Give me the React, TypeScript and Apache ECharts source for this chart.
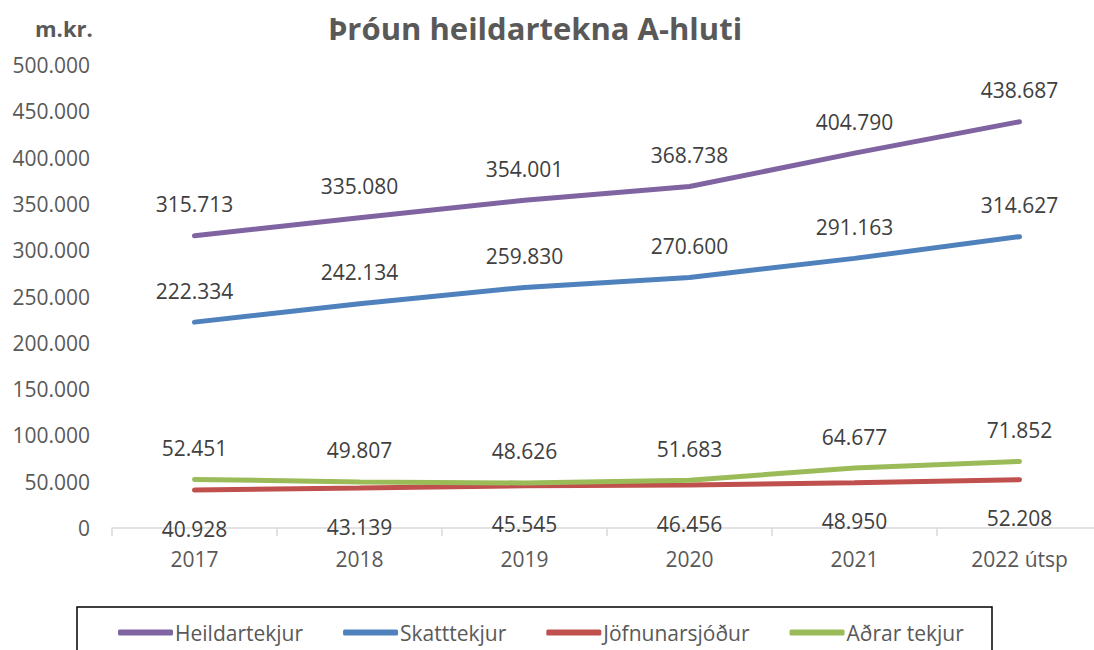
import React, { useEffect, useRef } from "react";
import * as echarts from "echarts";

const categories = ["2017", "2018", "2019", "2020", "2021", "2022 útsp"];
const heildartekjur = [315713, 335080, 354001, 368738, 404790, 438687];
const skatttekjur = [222334, 242134, 259830, 270600, 291163, 314627];
const jofnunarsjodur = [40928, 43139, 45545, 46456, 48950, 52208];
const adrarTekjur = [52451, 49807, 48626, 51683, 64677, 71852];
const yTicks = { min: 0, max: 500000, interval: 50000 };

const fmt = (v: number) => {
  if (v === 0) return "0";
  return String(Math.round(v)).replace(/\B(?=(\d{3})+(?!\d))/g, ".");
};

const FONT = "'Open Sans', sans-serif";

export default function App() {
  const ref = useRef<HTMLDivElement>(null);
  useEffect(() => {
    if (!ref.current) return;
    const chart = echarts.init(ref.current, null, { renderer: "svg" });
    const mk = (name: string, data: number[], color: string, pos: "top" | "bottom", dist: number) => ({
      name,
      type: "line",
      data,
      symbol: "circle",
      symbolSize: 0.1,
      showSymbol: true,
      lineStyle: { color, width: 5, cap: "round" },
      itemStyle: { color },
      labelLayout: { hideOverlap: false },
      label: {
        show: true,
        position: pos,
        distance: dist,
        formatter: (p: any) => fmt(p.value),
        color: "#404040",
        fontSize: 21,
        fontFamily: FONT,
      },
    });
    chart.setOption({
      animation: false,
      textStyle: { fontFamily: FONT },
      title: {
        text: "Þróun heildartekna A-hluti",
        left: 530,
        top: 7,
        textAlign: "center",
        textStyle: { fontSize: 31, fontWeight: "bold", color: "#595959", fontFamily: FONT },
      },
      graphic: [
        {
          type: "text",
          left: 35,
          top: 17,
          style: { text: "m.kr.", font: `bold 22px ${FONT}`, fill: "#595959" },
        },
        {
          type: "rect",
          shape: { x: 77, y: 607, width: 915, height: 60 },
          style: { fill: "none", stroke: "#000", lineWidth: 1.5 },
        },
      ],
      legend: {
        left: 113,
        top: 617,
        itemGap: 40,
        itemWidth: 55,
        itemHeight: 6,
        icon: "roundRect",
        textStyle: { fontSize: 21, color: "#595959", fontFamily: FONT, padding: [0, 0, 0, -3] },
        data: ["Heildartekjur", "Skatttekjur", "Jöfnunarsjóður", "Aðrar tekjur"],
      },
      grid: { left: 112, right: 2, top: 65, bottom: 122 },
      xAxis: {
        type: "category",
        data: categories,
        boundaryGap: true,
        axisLine: { lineStyle: { color: "#d9d9d9", width: 1.5 } },
        axisTick: { show: true, length: 8, lineStyle: { color: "#d9d9d9", width: 1.5 } },
        axisLabel: { color: "#595959", fontSize: 21, margin: 20, fontFamily: FONT },
      },
      yAxis: {
        type: "value",
        min: yTicks.min,
        max: yTicks.max,
        interval: yTicks.interval,
        axisLine: { show: false },
        axisTick: { show: false },
        splitLine: { show: false },
        axisLabel: {
          color: "#595959",
          fontSize: 21,
          margin: 22,
          fontFamily: FONT,
          formatter: (v: number) => fmt(v),
        },
      },
      series: [
        mk("Heildartekjur", heildartekjur, "#8064a2", "top", 21),
        mk("Skatttekjur", skatttekjur, "#4f81bd", "top", 21),
        mk("Jöfnunarsjóður", jofnunarsjodur, "#c0504d", "bottom", 28),
        mk("Aðrar tekjur", adrarTekjur, "#9bbb59", "top", 21),
      ],
    });
    return () => chart.dispose();
  }, []);
  return (
    <div
      style={{ position: "absolute", left: 0, top: 0, width: 1094, height: 650, overflow: "hidden", background: "#fff" }}
    >
      <div ref={ref} style={{ width: 1104, height: 650 }} />
    </div>
  );
}
